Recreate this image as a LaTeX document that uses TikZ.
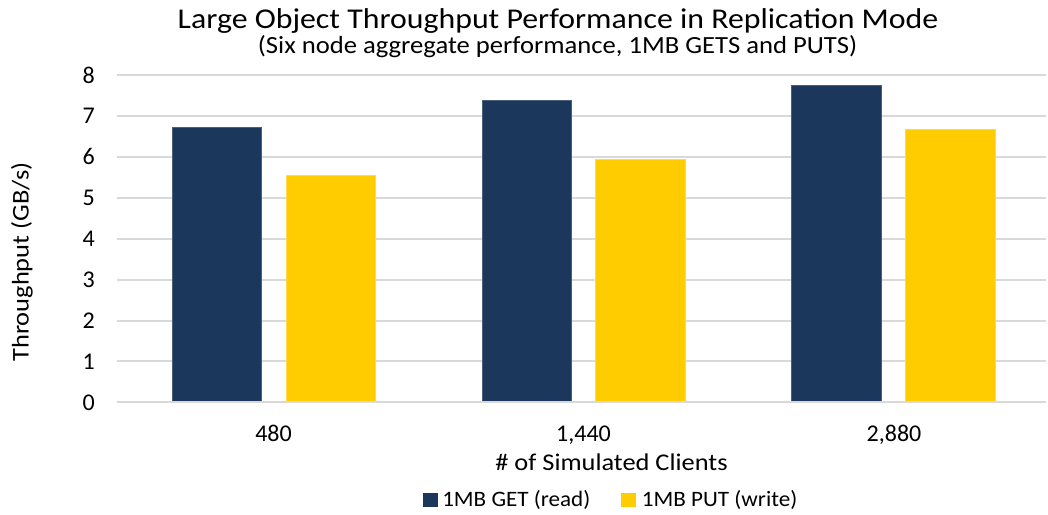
\documentclass[tikz,border=0pt]{standalone}
\usepackage{fontspec}
\setmainfont{Carlito}
\definecolor{getblue}{HTML}{1B375C}
\definecolor{putgold}{HTML}{FFCC00}
\definecolor{gridgray}{HTML}{D9D9D9}
% slightly widened text, as the chart's labels are set a little loosely
\newcommand{\wide}[2]{\scalebox{#1}[1]{#2}}
\begin{document}
\begin{tikzpicture}[x=0.75pt,y=-0.75pt,
  gridline/.style={draw=gridgray,line width=1.5pt},
  getbar/.style={fill=getblue,draw=getblue!80!white,line width=0.6pt},
  putbar/.style={fill=putgold,draw=putgold!70!white,line width=0.6pt},
  ticklab/.style={font=\fontsize{18}{20}\selectfont,inner sep=0pt},
  axtitle/.style={font=\fontsize{18}{20}\selectfont,inner sep=0pt},
  legtext/.style={font=\fontsize{16.5}{18}\selectfont,inner sep=0pt,anchor=base west}]
\useasboundingbox (0,0) rectangle (1048,514);
% value axis: 0 at y=402.3, 40.9 px per unit
\def\yz{402.3}
\def\ys{40.9}
\foreach \v in {0,...,8}{
  \draw[gridline] (117,{\yz-\ys*\v}) -- (1046,{\yz-\ys*\v});
  \node[ticklab,anchor=east] (ytick\v) at (95,{\yz-\ys*\v}) {\v};
}
% bars: GET (read) and PUT (write) per client count
\foreach \c/\g/\p in {0/6.71/5.55, 1/7.37/5.95, 2/7.76/6.68}{
  \pgfmathsetmacro{\gx}{172.3+309.7*\c}
  \pgfmathsetmacro{\px}{286+309.7*\c}
  \path[getbar] (\gx,\yz) rectangle ({\gx+89.5},{\yz-\ys*\g});
  \path[putbar] (\px,\yz) rectangle ({\px+89.5},{\yz-\ys*\p});
}
\draw[gridline] (117,\yz) -- (1046,\yz);
% category labels
\node[ticklab,anchor=base] (c480) at (273.5,441.7) {480};
\node[ticklab,anchor=base] (c1440) at (583.5,441.7) {1,440};
\node[ticklab,anchor=base] (c2880) at (894,441.7) {2,880};
% titles
\node[font=\fontsize{21.5}{24}\selectfont,inner sep=0pt,anchor=base] (title) at (558,28.3)
  {\wide{1.11}{Large Object Throughput Performance in Replication Mode}};
\node[font=\fontsize{18.5}{20}\selectfont,inner sep=0pt,anchor=base] (subtitle) at (557.5,53.3)
  {\wide{1.08}{(Six node aggregate performance, 1MB GETS and PUTS)}};
\node[axtitle,anchor=base] (xtitle) at (611.5,470.7) {\wide{1.10}{\# of Simulated Clients}};
\node[axtitle,rotate=90] (ytitle) at (22,262) {\wide{1.10}{Throughput (GB/s)}};
% legend
\fill[getblue] (423.3,493) rectangle (438,506.5);
\node[legtext] (lget) at (442,506.7) {\wide{1.05}{1MB GET (read)}};
\fill[putgold] (621,493) rectangle (635.7,506.5);
\node[legtext] (lput) at (641.7,506.7) {\wide{1.05}{1MB PUT (write)}};
\end{tikzpicture}
\end{document}
